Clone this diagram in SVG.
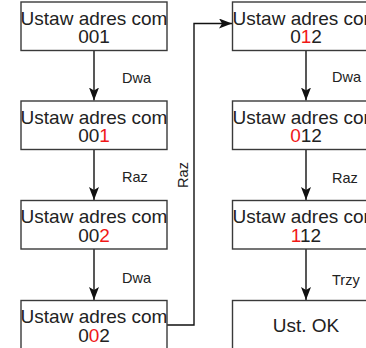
<svg xmlns="http://www.w3.org/2000/svg" width="366" height="348" viewBox="0 0 366 348">
  <defs>
    <marker id="arrow" viewBox="0 0 14 10" refX="13" refY="5" markerWidth="14" markerHeight="10" markerUnits="userSpaceOnUse" orient="auto">
      <path d="M13,5 L0,0 L3,5 L0,10 Z" fill="#111"/>
    </marker>
    <style>
      .box { fill: #fff; stroke: #3a3a3a; stroke-width: 1.4; }
      .main { font-family: "Liberation Sans", Arial, sans-serif; font-size: 19px; fill: #222; text-anchor: middle; }
      .lbl { font-family: "Liberation Sans", Arial, sans-serif; font-size: 14.5px; fill: #222; }
      .hi { fill: #f01818; }
      .edge { fill: none; stroke: #111; stroke-width: 1.4; marker-end: url(#arrow); }
    </style>
  </defs>
  <rect width="366" height="348" fill="#fff"/>

  <!-- connectors -->
  <g id="connectors">
    <path class="edge" d="M94,50.5 V100.5"/>
    <path class="edge" d="M94,149.5 V200"/>
    <path class="edge" d="M94,249 V300"/>
    <path class="edge" d="M167,325 H194 V23.5 H232"/>
    <path class="edge" d="M306,50.5 V100.5"/>
    <path class="edge" d="M306,149.5 V200"/>
    <path class="edge" d="M306,249 V300"/>
    <text class="lbl" x="122" y="82.5">Dwa</text>
    <text class="lbl" x="122" y="182">Raz</text>
    <text class="lbl" x="122" y="283">Dwa</text>
    <text class="lbl" x="332" y="82">Dwa</text>
    <text class="lbl" x="332" y="182.5">Raz</text>
    <text class="lbl" x="332" y="285">Trzy</text>
    <text class="lbl" text-anchor="middle" transform="translate(187.5,175) rotate(-90)">Raz</text>
  </g>

  <!-- left column -->
  <g id="l1">
    <rect class="box" x="21" y="2" width="146" height="48.5"/>
    <text class="main" x="94" y="24.5">Ustaw adres com</text>
    <text class="main" x="94" y="43">001</text>
  </g>
  <g id="l2">
    <rect class="box" x="21" y="101" width="146" height="48.5"/>
    <text class="main" x="94" y="123.5">Ustaw adres com</text>
    <text class="main" x="94" y="142">00<tspan class="hi">1</tspan></text>
  </g>
  <g id="l3">
    <rect class="box" x="21" y="200.5" width="146" height="48.5"/>
    <text class="main" x="94" y="223">Ustaw adres com</text>
    <text class="main" x="94" y="241.5">00<tspan class="hi">2</tspan></text>
  </g>
  <g id="l4">
    <rect class="box" x="21" y="300.5" width="146" height="48.5"/>
    <text class="main" x="94" y="322.5">Ustaw adres com</text>
    <text class="main" x="94" y="341.5">0<tspan class="hi">0</tspan>2</text>
  </g>

  <!-- right column -->
  <g id="r1">
    <rect class="box" x="232.5" y="2" width="147" height="48.5"/>
    <text class="main" x="306" y="24.5">Ustaw adres com</text>
    <text class="main" x="306" y="43">0<tspan class="hi">1</tspan>2</text>
  </g>
  <g id="r2">
    <rect class="box" x="232.5" y="101" width="147" height="48.5"/>
    <text class="main" x="306" y="123.5">Ustaw adres com</text>
    <text class="main" x="306" y="142"><tspan class="hi">0</tspan>12</text>
  </g>
  <g id="r3">
    <rect class="box" x="232.5" y="200.5" width="147" height="48.5"/>
    <text class="main" x="306" y="223">Ustaw adres com</text>
    <text class="main" x="306" y="241.5"><tspan class="hi">1</tspan>12</text>
  </g>
  <g id="r4">
    <rect class="box" x="232.5" y="300.5" width="147" height="48.5"/>
    <text class="main" x="306" y="331.5">Ust. OK</text>
  </g>
</svg>
